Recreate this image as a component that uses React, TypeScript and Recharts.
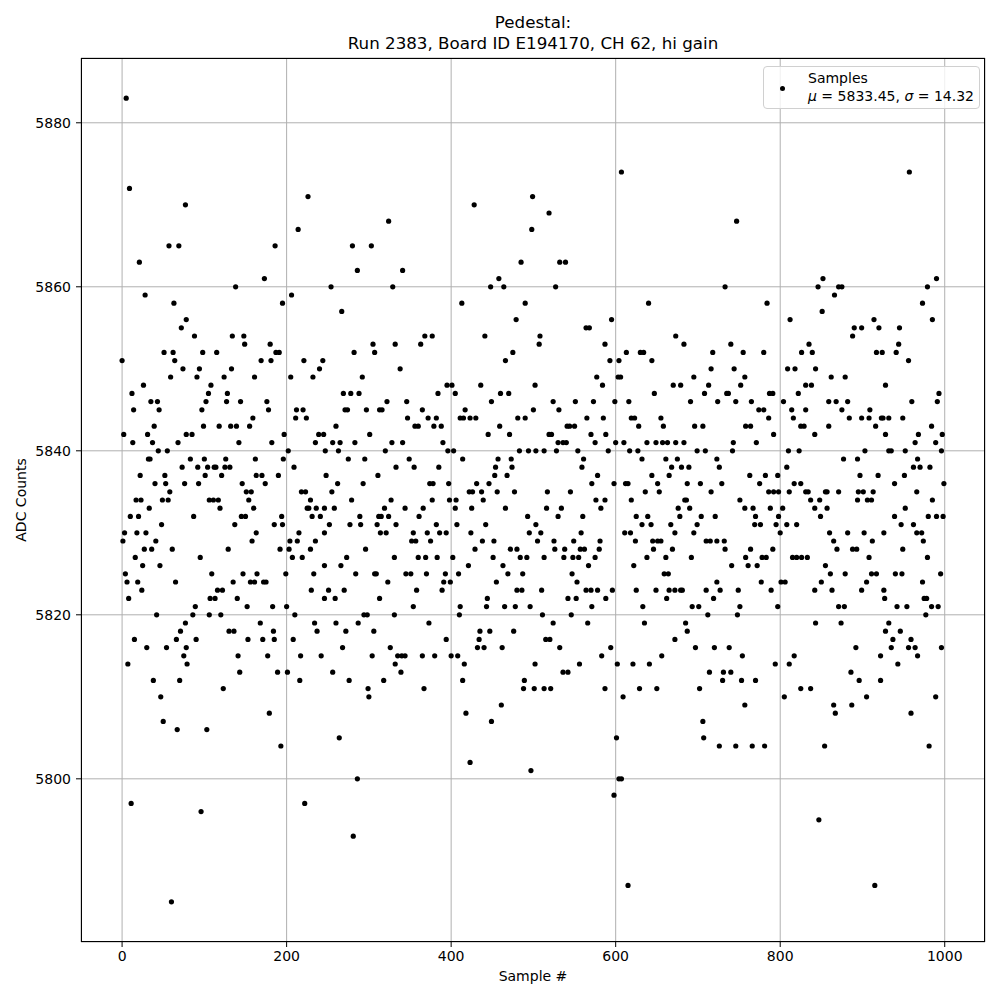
import { CartesianGrid, Scatter, ScatterChart, XAxis, YAxis } from "recharts";

// [sample #, ADC counts]
const samplePoints: [number, number][] = [
  [0,5851],[2,5842],[3,5830],[1,5829],[4,5825],[5,5883],[6,5824],[7,5814],[8,5822],[9,5872],[10,5832],[11,5797],[12,5847],[13,5841],[14,5845],[15,5817],[16,5827],[17,5834],[18,5830],[19,5824],[20,5832],[21,5863],[22,5837],[23,5834],[24,5823],[25,5826],[26,5848],[27,5828],[28,5859],[29,5830],[30,5816],[31,5842],[32,5839],[33,5833],[34,5839],[35,5846],[36,5828],[37,5841],[38,5812],[39,5843],[40,5836],[41,5829],[42,5820],[43,5846],[44,5840],[45,5845],[46,5826],[47,5810],[48,5831],[49,5834],[50,5807],[51,5852],[52,5837],[53,5836],[54,5816],[55,5840],[56,5834],[57,5865],[58,5835],[59,5849],[60,5785],[61,5828],[62,5852],[63,5858],[64,5851],[65,5824],[66,5817],[67,5806],[68,5841],[69,5865],[70,5812],[71,5818],[72,5855],[73,5838],[74,5850],[75,5815],[76,5836],[77,5870],[77,5819],[78,5856],[78,5842],[78,5816],[79,5814],
  [138,5860],[88,5854],[134,5854],[148,5854],[149,5853],[98,5852],[115,5852],[94,5850],[133,5850],[91,5849],[124,5849],[161,5849],[108,5848],[105,5847],[128,5847],[102,5846],[127,5846],[144,5846],[97,5845],[159,5844],[99,5843],[118,5843],[132,5843],[139,5843],[155,5843],[85,5842],[142,5841],[100,5839],[126,5839],[162,5839],[83,5839],[92,5838],[104,5838],[112,5838],[114,5838],[125,5838],[131,5838],[101,5837],[121,5837],[163,5837],[93,5836],[146,5836],[151,5835],[157,5835],[106,5834],[111,5834],[117,5834],[154,5834],[119,5833],[160,5833],[87,5832],[145,5832],[150,5832],[137,5831],[163,5830],[158,5829],[129,5828],[95,5827],[109,5825],[147,5825],[164,5825],[135,5824],[156,5824],[161,5824],[116,5823],[122,5823],[107,5822],[113,5822],[140,5822],[89,5821],[152,5821],[86,5820],[106,5820],[120,5820],[90,5817],[130,5818],[136,5818],[153,5817],[141,5815],[143,5813],[123,5811],[103,5806],[96,5796],
  [226,5871],[214,5867],[186,5865],[173,5861],[206,5859],[195,5858],[180,5853],[169,5851],[181,5851],[187,5852],[191,5852],[221,5851],[244,5851],[240,5850],[205,5849],[232,5849],[176,5846],[178,5845],[212,5845],[220,5845],[211,5844],[224,5844],[197,5842],[239,5842],[245,5842],[182,5841],[235,5841],[202,5840],[247,5840],[196,5839],[170,5837],[190,5837],[248,5837],[209,5838],[174,5836],[218,5835],[223,5835],[229,5834],[225,5833],[227,5833],[236,5833],[246,5833],[194,5832],[231,5832],[241,5832],[185,5831],[195,5831],[215,5830],[246,5830],[204,5829],[213,5829],[235,5829],[192,5828],[203,5828],[229,5828],[207,5827],[219,5827],[246,5826],[199,5825],[233,5825],[172,5824],[175,5824],[230,5823],[246,5822],[183,5821],[200,5821],[210,5820],[168,5819],[234,5819],[184,5818],[237,5818],[171,5817],[185,5817],[208,5817],[177,5815],[217,5815],[242,5815],[189,5813],[201,5813],[216,5812],[179,5808],[193,5804],[222,5797],
  [324,5868],[280,5865],[303,5865],[286,5862],[254,5860],[329,5860],[267,5857],[282,5852],[305,5853],[307,5852],[332,5853],[292,5849],[269,5847],[278,5847],[288,5847],[322,5846],[271,5845],[274,5845],[297,5845],[313,5845],[316,5845],[260,5843],[301,5842],[256,5841],[265,5841],[283,5841],[328,5841],[263,5840],[320,5840],[275,5839],[295,5839],[333,5838],[311,5837],[262,5836],[293,5836],[255,5835],[279,5834],[327,5834],[258,5833],[319,5833],[289,5832],[312,5832],[315,5832],[324,5832],[252,5831],[277,5831],[290,5831],[310,5831],[333,5831],[314,5830],[321,5830],[296,5828],[273,5827],[331,5827],[266,5826],[284,5825],[307,5825],[309,5825],[323,5824],[251,5823],[270,5823],[259,5822],[313,5822],[294,5820],[298,5820],[331,5820],[260,5819],[287,5819],[272,5818],[306,5818],[268,5816],[326,5816],[304,5815],[332,5814],[256,5813],[276,5812],[318,5812],[299,5811],[300,5810],[264,5805],[286,5800],[281,5793],
  [341,5862],[413,5858],[368,5854],[377,5854],[363,5853],[338,5850],[395,5848],[401,5848],[384,5847],[405,5847],[346,5846],[365,5845],[417,5845],[347,5844],[372,5844],[382,5844],[411,5844],[415,5844],[356,5843],[360,5843],[379,5843],[388,5843],[341,5841],[390,5841],[396,5840],[403,5840],[349,5839],[355,5838],[385,5838],[414,5839],[374,5836],[378,5836],[397,5836],[377,5834],[398,5834],[406,5834],[344,5833],[366,5833],[405,5833],[361,5832],[382,5831],[407,5831],[354,5830],[371,5830],[386,5830],[394,5830],[352,5829],[357,5829],[375,5829],[360,5827],[369,5827],[383,5827],[402,5827],[345,5825],[351,5825],[370,5825],[393,5825],[409,5825],[391,5824],[399,5824],[358,5823],[389,5823],[354,5821],[411,5821],[410,5820],[373,5819],[394,5817],[335,5815],[340,5815],[344,5815],[365,5815],[380,5815],[400,5815],[408,5815],[339,5813],[416,5814],[414,5812],[367,5811],[418,5808],
  [428,5870],[499,5871],[498,5867],[485,5863],[458,5861],[448,5860],[464,5860],[490,5858],[479,5856],[441,5854],[475,5852],[466,5851],[436,5848],[502,5848],[460,5847],[470,5847],[449,5846],[423,5844],[430,5844],[481,5844],[490,5844],[500,5845],[459,5843],[445,5842],[471,5842],[483,5840],[494,5840],[503,5840],[457,5839],[473,5839],[454,5838],[474,5838],[453,5837],[468,5837],[431,5836],[446,5836],[422,5835],[426,5835],[437,5835],[456,5835],[477,5835],[439,5834],[425,5833],[466,5833],[493,5832],[442,5831],[503,5831],[424,5830],[495,5830],[438,5829],[452,5829],[429,5828],[472,5828],[480,5828],[451,5827],[484,5827],[492,5827],[421,5826],[463,5826],[469,5825],[487,5825],[455,5824],[480,5823],[486,5823],[444,5822],[443,5821],[465,5821],[478,5821],[496,5821],[435,5818],[447,5818],[476,5818],[434,5817],[432,5816],[440,5816],[462,5816],[502,5814],[489,5812],[488,5811],[501,5811],[461,5809],[449,5807],[423,5802],[497,5801],
  [519,5869],[532,5863],[539,5863],[527,5860],[508,5854],[507,5853],[564,5855],[568,5855],[587,5853],[577,5849],[584,5848],[524,5846],[551,5846],[573,5846],[531,5845],[565,5844],[585,5844],[541,5843],[544,5843],[550,5843],[519,5842],[522,5842],[570,5842],[588,5842],[530,5841],[536,5841],[540,5841],[575,5841],[513,5840],[528,5840],[554,5840],[561,5839],[559,5838],[578,5837],[571,5836],[517,5835],[545,5835],[576,5834],[587,5834],[516,5833],[534,5833],[582,5833],[530,5832],[560,5832],[509,5830],[558,5830],[505,5829],[525,5829],[549,5829],[581,5829],[526,5828],[538,5828],[557,5828],[562,5828],[580,5828],[513,5827],[537,5827],[548,5827],[555,5827],[575,5827],[567,5826],[547,5825],[553,5824],[510,5823],[564,5823],[570,5823],[578,5823],[542,5822],[552,5822],[588,5822],[571,5821],[511,5820],[546,5820],[524,5819],[566,5819],[515,5817],[520,5817],[532,5816],[556,5814],[583,5815],[536,5813],[542,5813],[513,5811],[521,5811],[587,5811],
  [607,5874],[640,5858],[595,5856],[673,5854],[613,5852],[630,5852],[634,5852],[593,5851],[604,5851],[644,5851],[603,5849],[606,5849],[670,5848],[647,5847],[599,5846],[616,5846],[619,5844],[623,5844],[655,5844],[628,5843],[658,5843],[600,5841],[610,5841],[638,5841],[649,5841],[657,5841],[663,5841],[673,5841],[591,5840],[617,5840],[627,5840],[632,5839],[661,5839],[668,5838],[644,5837],[665,5837],[598,5836],[612,5836],[615,5836],[651,5836],[636,5835],[653,5835],[619,5834],[625,5832],[639,5832],[632,5831],[643,5831],[667,5831],[611,5830],[618,5830],[672,5830],[624,5829],[645,5829],[651,5829],[655,5829],[646,5828],[669,5828],[638,5827],[661,5827],[622,5826],[659,5825],[664,5825],[596,5823],[625,5823],[649,5823],[665,5823],[672,5823],[662,5822],[633,5821],[635,5819],[672,5817],[594,5816],[656,5815],[602,5814],[621,5814],[641,5814],[629,5811],[650,5811],[609,5810],[601,5805],[604,5800],[607,5800],[598,5798],[615,5787],
  [747,5868],[733,5860],[683,5853],[740,5853],[718,5852],[755,5852],[716,5850],[744,5850],[695,5849],[757,5849],[679,5848],[713,5848],[752,5848],[708,5847],[735,5847],[737,5847],[691,5846],[724,5846],[746,5846],[696,5843],[706,5843],[758,5843],[683,5841],[743,5841],[699,5840],[709,5840],[742,5840],[675,5839],[680,5838],[689,5838],[723,5839],[726,5838],[687,5836],[703,5836],[729,5836],[716,5835],[684,5834],[686,5834],[751,5834],[676,5833],[690,5833],[757,5833],[678,5832],[704,5832],[721,5832],[699,5831],[695,5830],[710,5829],[715,5829],[723,5829],[732,5829],[733,5828],[692,5827],[758,5827],[741,5826],[723,5824],[679,5823],[681,5823],[710,5823],[727,5823],[749,5823],[719,5822],[693,5821],[701,5821],[751,5821],[712,5820],[748,5820],[685,5819],[687,5818],[697,5816],[720,5816],[738,5816],[754,5815],[714,5813],[731,5813],[740,5813],[730,5812],[753,5812],[702,5811],[757,5809],[706,5807],[707,5805],[726,5804],[746,5804],
  [784,5858],[812,5856],[780,5852],[826,5852],[835,5853],[839,5852],[809,5850],[818,5850],[843,5850],[831,5848],[838,5848],[765,5846],[787,5847],[791,5847],[822,5847],[804,5846],[774,5845],[780,5845],[814,5845],[831,5845],[786,5844],[816,5844],[764,5843],[825,5843],[829,5843],[792,5842],[842,5842],[771,5841],[810,5840],[823,5840],[808,5838],[763,5837],[782,5837],[797,5837],[775,5836],[817,5836],[825,5836],[786,5835],[792,5835],[798,5835],[811,5835],[831,5835],[834,5835],[837,5834],[767,5833],[788,5833],[803,5833],[842,5833],[770,5832],[798,5832],[769,5831],[776,5831],[795,5831],[808,5831],[820,5831],[800,5830],[791,5828],[764,5828],[778,5827],[783,5827],[815,5827],[820,5827],[826,5827],[833,5827],[761,5826],[772,5826],[777,5824],[789,5823],[801,5824],[806,5824],[842,5823],[797,5821],[843,5819],[794,5814],[811,5814],[817,5815],[770,5812],[825,5811],[837,5811],[805,5810],[766,5804],[781,5804],
  [852,5861],[846,5860],[871,5860],[875,5860],[866,5859],[851,5857],[914,5856],[920,5855],[890,5855],[899,5855],[888,5854],[917,5852],[924,5852],[862,5849],[879,5849],[928,5848],[859,5846],[868,5846],[882,5846],[875,5845],[909,5845],[884,5844],[899,5844],[908,5844],[923,5844],[925,5844],[859,5843],[916,5843],[928,5842],[903,5840],[877,5839],[894,5839],[897,5837],[919,5837],[855,5835],[857,5835],[871,5835],[895,5835],[901,5835],[913,5835],[848,5834],[894,5834],[906,5834],[911,5834],[857,5833],[849,5832],[860,5830],[882,5830],[902,5830],[926,5830],[865,5829],[912,5829],[869,5828],[888,5828],[893,5828],[908,5827],[855,5826],[861,5825],[879,5825],[911,5825],[917,5825],[850,5824],[905,5824],[863,5823],[899,5823],[926,5823],[927,5822],[871,5821],[878,5821],[874,5819],[928,5818],[892,5816],[922,5815],[886,5813],[896,5812],[922,5812],[905,5810],[865,5809],[867,5808],[887,5809],[854,5804],[847,5795],[915,5787],
  [957,5874],[990,5861],[979,5860],[973,5858],[985,5856],[945,5855],[944,5853],[941,5852],[956,5851],[993,5847],[960,5846],[991,5846],[932,5844],[949,5844],[984,5843],[968,5842],[997,5842],[964,5841],[989,5841],[932,5840],[935,5840],[952,5840],[996,5840],[967,5839],[951,5837],[962,5838],[970,5838],[982,5838],[939,5836],[999,5836],[966,5835],[985,5834],[952,5833],[939,5832],[980,5832],[990,5832],[998,5832],[947,5831],[962,5831],[966,5830],[972,5830],[974,5829],[949,5828],[979,5827],[940,5825],[948,5825],[995,5825],[973,5824],[975,5822],[978,5822],[942,5821],[954,5821],[984,5821],[992,5821],[977,5820],[932,5819],[946,5818],[937,5817],[959,5817],[935,5816],[956,5816],[964,5816],[996,5816],[967,5815],[943,5814],[989,5810],[959,5808],[981,5804],
];

const xTicks = [0, 200, 400, 600, 800, 1000];
const yTicks = [5800, 5820, 5840, 5860, 5880];
const titleLines = ["Pedestal:", "Run 2383, Board ID E194170, CH 62, hi gain"];
const legendName = "Samples";
const legendMu = "5833.45";
const legendSigma = "14.32";

const data = samplePoints.map(([sample, adc]) => ({ sample, adc }));

const font = '"DejaVu Sans", sans-serif';
const tickStyle = { fill: "#000", fontSize: 14, fontFamily: font };

function Dot(props: any) {
  return <circle cx={props.cx} cy={props.cy} r={2.6} fill="#000" />;
}

export default function App() {
  return (
    <div style={{ position: "absolute", left: 0, top: 0, width: 1000, height: 1000, background: "#fff", fontFamily: font }}>
      <ScatterChart width={1000} height={1000} margin={{ top: 58, right: 15, bottom: 18, left: 21 }}>
        <CartesianGrid stroke="#b0b0b0" strokeWidth={1} />
        <XAxis
          type="number"
          dataKey="sample"
          domain={[-49.95, 1048.95]}
          ticks={xTicks}
          allowDataOverflow
          height={40}
          axisLine={false}
          tickLine={{ stroke: "#000" }}
          tickSize={5}
          tickMargin={4}
          tick={tickStyle}
        />
        <YAxis
          type="number"
          dataKey="adc"
          domain={[5780.1, 5887.9]}
          ticks={yTicks}
          allowDataOverflow
          width={60}
          axisLine={false}
          tickLine={{ stroke: "#000" }}
          tickSize={5}
          tickMargin={5}
          tick={tickStyle}
        />
        <Scatter data={data} fill="#000" shape={Dot} isAnimationActive={false} />
      </ScatterChart>

      {/* axes frame */}
      <div style={{ position: "absolute", left: 81, top: 58, width: 904, height: 884, border: "1px solid #000", boxSizing: "border-box", pointerEvents: "none" }} />

      {/* title */}
      <div style={{ position: "absolute", left: 81, top: 12, width: 904, textAlign: "center", fontSize: 16.7, lineHeight: "21px", color: "#000" }}>
        {titleLines.map((t) => (
          <div key={t}>{t}</div>
        ))}
      </div>

      {/* axis labels */}
      <div style={{ position: "absolute", left: 81, top: 968, width: 904, textAlign: "center", fontSize: 14, lineHeight: "17px" }}>
        Sample #
      </div>
      <div style={{ position: "absolute", left: 21, top: 500, fontSize: 14, lineHeight: "17px", whiteSpace: "nowrap", transform: "translate(-50%, -50%) rotate(-90deg)" }}>
        ADC Counts
      </div>

      {/* legend */}
      <div style={{ position: "absolute", left: 763, top: 66, width: 217, height: 43, border: "1px solid #d0d0d0", borderRadius: 4, background: "rgba(255,255,255,0.8)", boxSizing: "border-box" }}>
        <div style={{ position: "absolute", left: 16, top: 19, width: 5.2, height: 5.2, borderRadius: "50%", background: "#000" }} />
        <div style={{ position: "absolute", left: 44, top: 2, fontSize: 14, lineHeight: "18px", whiteSpace: "nowrap" }}>
          <div>{legendName}</div>
          <div>
            <i>μ</i> = {legendMu}, <i>σ</i> = {legendSigma}
          </div>
        </div>
      </div>
    </div>
  );
}
